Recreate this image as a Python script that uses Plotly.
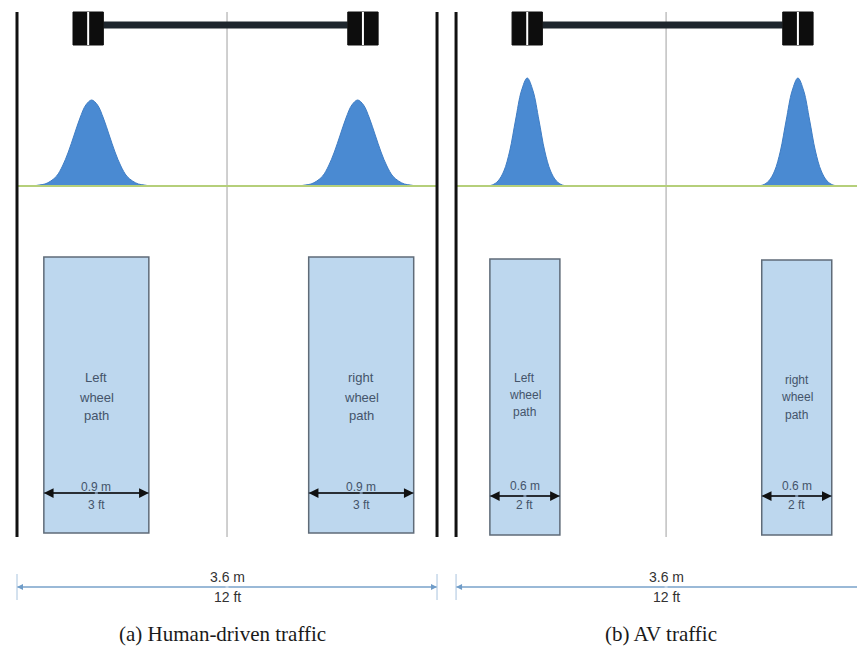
import plotly.graph_objects as go

# ---------------- data (metres) ----------------
panel_titles = ["(a) Human-driven traffic", "(b) AV traffic"]
panel_origin_m = [0.0, 3.763]
lane_width_m = [3.6, 3.6]
lane_width_label = ["3.6 m", "3.6 m"]
lane_width_ft_label = ["12 ft", "12 ft"]
wheel_path_width_m = [0.9, 0.6]
wheel_path_m_label = ["0.9 m", "0.6 m"]
wheel_path_ft_label = ["3 ft", "2 ft"]
wheel_path_center_m = [[0.68, 2.95], [0.59, 2.92]]
wheel_path_words = [["Left", "wheel", "path"], ["right", "wheel", "path"]]
wheel_center_m = [[0.61, 2.965], [0.61, 2.93]]
wheel_width_m = 0.26
dist_center_m = [[0.64, 2.92], [0.61, 2.93]]
dist_offset_a = [-0.5, -0.45, -0.4, -0.35, -0.3, -0.25, -0.2, -0.15, -0.1, -0.05, 0.0,
                 0.05, 0.1, 0.15, 0.2, 0.25, 0.3, 0.35, 0.4, 0.45, 0.5]
dist_height_a = [0, 1, 2, 5, 10, 20, 34, 51, 68, 81, 86, 81, 68, 51, 34, 20, 10, 5, 2, 1, 0]
dist_offset_b = [-0.35, -0.3, -0.25, -0.2, -0.15, -0.1, -0.05, 0.0,
                 0.05, 0.1, 0.15, 0.2, 0.25, 0.3, 0.35]
dist_height_b = [0, 1, 5, 15, 35, 66, 95, 108, 95, 66, 35, 15, 5, 1, 0]
dist_offsets = [dist_offset_a, dist_offset_b]
dist_heights = [dist_height_a, dist_height_b]
caption_shift_m = [-0.043, -0.043]

# ---------------- layout constants (diagram units, y downward) ----------------
PAGE_MARGIN = 8  # default body margin of the html page
X_MIN, X_MAX = (PAGE_MARGIN - 17) / 116.67, 7.268
LANE_TOP, LANE_BOTTOM = 12, 537
BASELINE = 186
AXLE_Y = 25
WHEEL_TOP, WHEEL_BOTTOM = 12, 45
RECT_TOP = [[257, 257], [259, 260]]
RECT_BOTTOM = [[533, 533], [535, 535]]
WORD_Y = [[[377, 397, 415], [377, 397, 415]], [[378, 395, 412], [380, 397, 415]]]
WORD_SIZE = [13, 12]
DIM_SIZE = [12, 12]
DIM_Y = [493, 496]
DIM_M_Y = [487, 486]
DIM_FT_Y = [505, 505]
BOTTOM_ARROW_Y = 587
BOTTOM_M_Y = 577
BOTTOM_FT_Y = 597
CAPTION_Y = 634

fig = go.Figure()
shapes = []
annotations = []

def line(x0, y0, x1, y1, color, width, dash="solid"):
    shapes.append(dict(type="line", xref="x", yref="y", x0=x0, y0=y0, x1=x1, y1=y1,
                       line=dict(color=color, width=width, dash=dash)))

def text(x, y, s, size, color, family="Liberation Sans"):
    annotations.append(dict(x=x, y=y, xref="x", yref="y", text=s, showarrow=False,
                            font=dict(size=size, color=color, family=family),
                            xanchor="center", yanchor="middle"))

def arrow(x_head, x_tail, y, color, width, size, head=2):
    annotations.append(dict(x=x_head, y=y, ax=x_tail, ay=y, xref="x", yref="y",
                            axref="x", ayref="y", text="", showarrow=True,
                            arrowhead=head, arrowsize=size, arrowwidth=width,
                            arrowcolor=color, standoff=0, startstandoff=0))

for p in range(2):
    o = panel_origin_m[p]
    W = lane_width_m[p]
    left, right, mid = o, o + W, o + W / 2
    vis_right = min(right, X_MAX - 0.005)

    # lane centre line
    line(mid, LANE_TOP, mid, LANE_BOTTOM, "#a0a0a0", 1)
    # green baseline
    line(left, BASELINE, vis_right, BASELINE, "#b5cf7a", 2)
    # lane edges
    line(left, LANE_TOP, left, LANE_BOTTOM, "#111111", 3)
    line(right, LANE_TOP, right, LANE_BOTTOM, "#111111", 3)

    # axle + wheels
    wc = wheel_center_m[p]
    line(o + wc[0] + wheel_width_m / 2, AXLE_Y, o + wc[1] - wheel_width_m / 2, AXLE_Y, "#1e262d", 7)
    for c in wc:
        shapes.append(dict(type="rect", xref="x", yref="y",
                           x0=o + c - wheel_width_m / 2, x1=o + c + wheel_width_m / 2,
                           y0=WHEEL_TOP, y1=WHEEL_BOTTOM,
                           fillcolor="#0d0d0d", line=dict(color="#0d0d0d", width=1)))
        line(o + c, WHEEL_TOP, o + c, WHEEL_BOTTOM, "#ffffff", 2)

    # distributions
    for c in dist_center_m[p]:
        fig.add_trace(go.Scatter(
            x=[o + c + d for d in dist_offsets[p]],
            y=[BASELINE - h for h in dist_heights[p]],
            mode="lines", fill="toself", fillcolor="#4a8ad2",
            line=dict(color="#3f7dc4", width=1, shape="spline"),
            hoverinfo="skip", showlegend=False))

    # wheel paths
    ww = wheel_path_width_m[p]
    for k, c in enumerate(wheel_path_center_m[p]):
        x0, x1 = o + c - ww / 2, o + c + ww / 2
        shapes.append(dict(type="rect", xref="x", yref="y", x0=x0, x1=x1,
                           y0=RECT_TOP[p][k], y1=RECT_BOTTOM[p][k],
                           fillcolor="#bdd7ee", line=dict(color="#5f6b78", width=1.5),
                           layer="below"))
        for word, wy in zip(wheel_path_words[k], WORD_Y[p][k]):
            text(o + c, wy, word, WORD_SIZE[p], "#44546a")
        line(x0, DIM_Y[p], x1, DIM_Y[p], "#2f3f55", 1)
        arrow(x0, o + c, DIM_Y[p], "#111111", 1.3, 1.5)
        arrow(x1, o + c, DIM_Y[p], "#111111", 1.3, 1.5)
        text(o + c, DIM_M_Y[p], wheel_path_m_label[p], DIM_SIZE[p], "#44546a")
        text(o + c, DIM_FT_Y[p], wheel_path_ft_label[p], DIM_SIZE[p], "#44546a")

    # overall lane width dimension
    line(left, BOTTOM_ARROW_Y, vis_right, BOTTOM_ARROW_Y, "#b3c8de", 1.5)
    line(left, BOTTOM_ARROW_Y - 13, left, BOTTOM_ARROW_Y + 13, "#a9c4de", 1)
    line(right, BOTTOM_ARROW_Y - 13, right, BOTTOM_ARROW_Y + 13, "#a9c4de", 1)
    arrow(left, mid, BOTTOM_ARROW_Y, "#6f9cc8", 1, 1.2)
    arrow(vis_right, mid, BOTTOM_ARROW_Y, "#6f9cc8", 1, 1.2)
    text(mid, BOTTOM_M_Y, lane_width_label[p], 14, "#333333")
    text(mid, BOTTOM_FT_Y, lane_width_ft_label[p], 14, "#333333")

    # caption
    text(mid + caption_shift_m[p], CAPTION_Y, panel_titles[p], 21, "#1a1a1a",
         family="Liberation Serif")

fig.update_layout(
    width=865 - PAGE_MARGIN, height=648 - PAGE_MARGIN,
    margin=dict(l=0, r=0, t=0, b=0),
    paper_bgcolor="white", plot_bgcolor="white",
    xaxis=dict(range=[X_MIN, X_MAX], visible=False, fixedrange=True),
    yaxis=dict(range=[648, PAGE_MARGIN], visible=False, fixedrange=True),
    shapes=shapes, annotations=annotations, showlegend=False,
)

fig.write_html("out.html")
